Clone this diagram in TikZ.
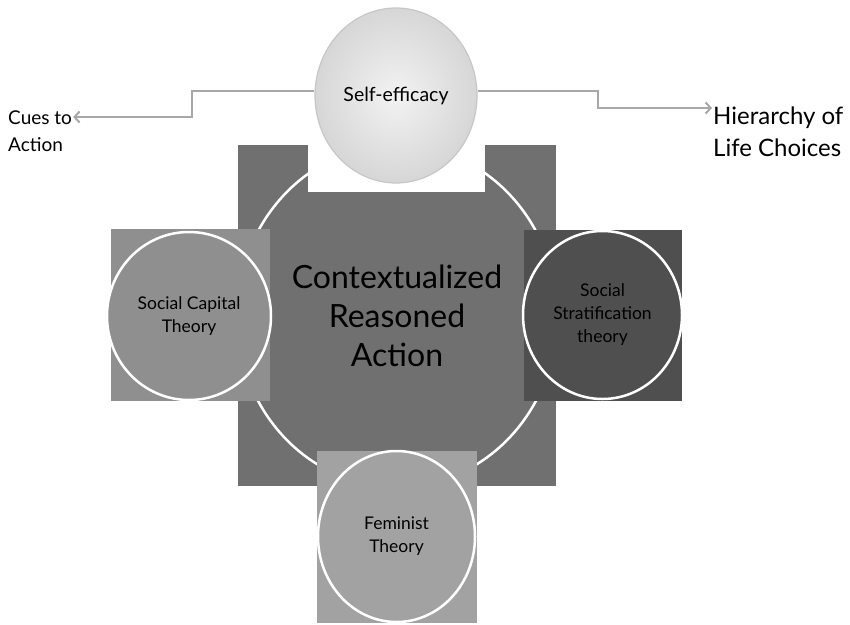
\documentclass[tikz,border=0pt]{standalone}
\usepackage{fontspec}
\setmainfont{Lato}
\usetikzlibrary{arrows.meta,shapes.geometric,positioning}
\definecolor{coregray}{HTML}{707070}
\definecolor{capgray}{HTML}{8F8F8F}
\definecolor{stratgray}{HTML}{4F4F4F}
\definecolor{femgray}{HTML}{A2A2A2}
\definecolor{linkgray}{HTML}{A8A8A8}
\tikzset{
    %Define standard arrow tip
    >={Straight Barb[length=5pt,width=11pt]},
    %Define style for the squares behind the circles
    backsq/.style={
           rectangle,
           draw=none,
           inner sep=0pt},
    %Define style for the theory circles
    theory/.style={
           ellipse,
           draw=white, line width=2.5pt,
           minimum width=160pt,
           minimum height=170pt,
           inner sep=0pt,
           align=center,
           font=\fontsize{17.5}{23}\selectfont},
    %Define style for the outer labels
    lbl/.style={
           inner sep=1pt,
           align=left,
           anchor=west},
    % Define arrow style
    link/.style={
           ->,
           draw=linkgray,
           line width=2pt}
}
\begin{document}
\begin{tikzpicture}[x=1pt,y=-1pt]
\fill[white] (0,0) rectangle (850,624);
\node[backsq, fill=coregray, minimum width=318pt, minimum height=341pt](coresq) at (397,315.5) {};
\node[theory, fill=coregray, minimum width=320pt, minimum height=342pt,
      font=\fontsize{32}{39}\selectfont](core) at (397,316) {Contextualized\\Reasoned\\Action};
\node[backsq, fill=white, minimum width=177pt, minimum height=184pt](topsq) at (396.5,100) {};
\node[ellipse, draw=black!22, line width=1.2pt, inner color=black!5, outer color=black!16,
      minimum width=162pt, minimum height=175pt, font=\fontsize{19.5}{24}\selectfont](selfeff) at (396,95.5) {Self-efficacy};
\node[backsq, fill=capgray, minimum width=159pt, minimum height=172pt](capsq) at (190.5,315) {};
\node[theory, fill=capgray, minimum width=164pt, minimum height=168pt](cap) at (189,316) {Social Capital\\Theory};
\node[backsq, fill=stratgray, minimum width=158pt, minimum height=171pt](stratsq) at (603,315.5) {};
\node[theory, fill=stratgray, minimum width=159pt, minimum height=168pt](strat) at (602.5,315) {Social\\Stratification\\theory};
\node[backsq, fill=femgray, minimum width=160pt, minimum height=172pt](femsq) at (397,537) {};
\node[theory, fill=femgray, minimum width=157pt, minimum height=171pt](fem) at (396.5,536.5) {Feminist\\Theory};
\node[lbl, font=\fontsize{19}{27}\selectfont](cues) at (7,131) {Cues to\\Action};
\node[lbl, font=\fontsize{24}{32}\selectfont](hier) at (712,132) {Hierarchy of\\Life Choices};
\draw[link] ([yshift=4.5pt]selfeff.west) -- ++(-122,0) |- ([yshift=14pt]cues.east);
\draw[link] ([yshift=4.5pt]selfeff.east) -- ++(120,0) |- ([yshift=24pt]hier.west);
\end{tikzpicture}
\end{document}
